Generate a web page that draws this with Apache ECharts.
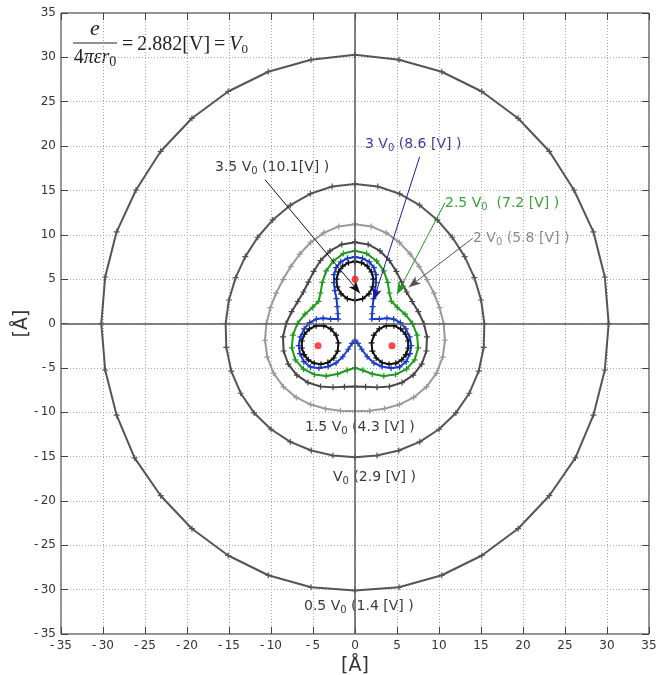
<!DOCTYPE html>
<html><head><meta charset="utf-8">
<script src="https://cdn.jsdelivr.net/npm/echarts/dist/echarts.min.js"></script>
<style>html,body{margin:0;padding:0;background:#fff}#c{width:670px;height:675px}</style>
</head><body><div id="c"></div>
<script>
const AXIS_MIN = -35, AXIS_MAX = 35, TICK_STEP = 5;

// 0.5 V0 (1.4 V)
const contour05 = [[0,30.3],[5.24,29.74],[10.33,28.38],[15.1,26.15],[19.41,23.13],[23.13,19.41],[26.07,15.05],[28.38,10.33],[29.74,5.24],[30.2,0],[29.74,-5.24],[28.38,-10.33],[26.24,-15.15],[23.13,-19.41],[19.41,-23.13],[15.1,-26.15],[10.33,-28.38],[5.24,-29.74],[0,-30.1],[-5.24,-29.74],[-10.33,-28.38],[-15.1,-26.15],[-19.41,-23.13],[-23.13,-19.41],[-26.24,-15.15],[-28.38,-10.33],[-29.74,-5.24],[-30.2,0],[-29.74,5.24],[-28.38,10.33],[-26.07,15.05],[-23.13,19.41],[-19.41,23.13],[-15.1,26.15],[-10.33,28.38],[-5.24,29.74],[0,30.3]];
// V0 (2.9 V)
const contour10 = [[0,15.72],[2.72,15.44],[5.32,14.62],[7.7,13.34],[9.8,11.67],[11.58,9.72],[13.06,7.54],[14.21,5.17],[15.01,2.65],[15.4,0],[15.32,-2.7],[14.73,-5.36],[13.61,-7.86],[12.01,-10.08],[10.0,-11.92],[7.7,-13.34],[5.21,-14.32],[2.62,-14.89],[0,-15.08],[-2.62,-14.89],[-5.21,-14.32],[-7.7,-13.34],[-10.0,-11.92],[-12.01,-10.08],[-13.61,-7.86],[-14.73,-5.36],[-15.32,-2.7],[-15.4,0],[-15.01,2.65],[-14.21,5.17],[-13.06,7.54],[-11.58,9.72],[-9.8,11.67],[-7.7,13.34],[-5.32,14.62],[-2.72,15.44],[0,15.72]];
// 1.5 V0 (4.3 V)
const contour15 = [[0,11.2],[1.93,10.94],[3.72,10.22],[5.28,9.14],[6.57,7.83],[7.65,6.42],[8.57,4.95],[9.39,3.42],[10.07,1.78],[10.55,0],[10.71,-1.89],[10.44,-3.8],[9.7,-5.6],[8.51,-7.14],[6.99,-8.33],[5.28,-9.14],[3.5,-9.61],[1.73,-9.84],[0,-9.9],[-1.73,-9.84],[-3.5,-9.61],[-5.28,-9.14],[-6.99,-8.33],[-8.51,-7.14],[-9.7,-5.6],[-10.44,-3.8],[-10.71,-1.89],[-10.55,0],[-10.07,1.78],[-9.39,3.42],[-8.57,4.95],[-7.65,6.42],[-6.57,7.83],[-5.28,9.14],[-3.72,10.22],[-1.93,10.94],[0,11.2]];
// 2 V0 (5.8 V)
const contour20 = [[0,9.17],[1.57,8.91],[2.98,8.18],[4.1,7.1],[4.92,5.87],[5.55,4.66],[6.14,3.55],[6.81,2.48],[7.54,1.33],[8.2,0],[8.57,-1.51],[8.5,-3.1],[7.94,-4.59],[6.93,-5.82],[5.59,-6.66],[4.1,-7.1],[2.62,-7.2],[1.26,-7.14],[0,-7.09],[-1.26,-7.14],[-2.62,-7.2],[-4.1,-7.1],[-5.59,-6.66],[-6.93,-5.82],[-7.94,-4.59],[-8.5,-3.1],[-8.57,-1.51],[-8.2,0],[-7.54,1.33],[-6.81,2.48],[-6.14,3.55],[-5.55,4.66],[-4.92,5.87],[-4.1,7.1],[-2.98,8.18],[-1.57,8.91],[0,9.17]];
// 2.5 V0 (7.2 V)
const contour25 = [[0,8.2],[1.39,7.88],[2.57,7.05],[3.43,5.93],[3.89,4.63],[4.1,3.44],[4.33,2.5],[5.03,1.83],[5.96,1.05],[6.85,0],[7.39,-1.3],[7.52,-2.74],[7.1,-4.1],[6.13,-5.14],[4.82,-5.75],[3.43,-5.93],[2.07,-5.69],[0.93,-5.27],[0,-5.0],[-0.93,-5.27],[-2.07,-5.69],[-3.43,-5.93],[-4.82,-5.75],[-6.13,-5.14],[-7.1,-4.1],[-7.52,-2.74],[-7.39,-1.3],[-6.85,0],[-5.96,1.05],[-5.03,1.83],[-4.33,2.5],[-4.1,3.44],[-3.89,4.63],[-3.43,5.93],[-2.57,7.05],[-1.39,7.88],[0,8.2]];
// 3 V0 (8.6 V)
const contour30 = [[0,7.5],[0.9,7.35],[1.7,6.95],[2.25,6.3],[2.5,5.5],[2.5,4.6],[2.4,3.7],[2.2,2.8],[2.1,1.9],[2.05,1.1],[2.0,0.5],[2.9,0.5],[3.8,0.6],[4.6,0.5],[5.4,0.1],[6.05,-0.6],[6.5,-1.5],[6.7,-2.5],[6.55,-3.4],[6.1,-4.3],[5.3,-4.9],[4.3,-5.05],[3.2,-4.85],[2.25,-4.45],[1.45,-3.75],[0.8,-2.9],[0.35,-2.25],[0,-1.86],[-0.35,-2.25],[-0.8,-2.9],[-1.45,-3.75],[-2.25,-4.45],[-3.2,-4.85],[-4.3,-5.05],[-5.3,-4.9],[-6.1,-4.3],[-6.55,-3.4],[-6.7,-2.5],[-6.5,-1.5],[-6.05,-0.6],[-5.4,0.1],[-4.6,0.5],[-3.8,0.6],[-2.9,0.5],[-2.0,0.5],[-2.05,1.1],[-2.1,1.9],[-2.2,2.8],[-2.4,3.7],[-2.5,4.6],[-2.5,5.5],[-2.25,6.3],[-1.7,6.95],[-0.9,7.35],[0,7.5]];
// 3.5 V0 (10.1 V): three closed curves
const contour35top = [[0,7.0],[0.77,6.86],[1.46,6.46],[1.96,5.81],[2.2,5.0],[2.1,4.13],[1.66,3.35],[0.91,2.8],[0,2.6],[-0.91,2.8],[-1.66,3.35],[-2.1,4.13],[-2.2,5.0],[-1.96,5.81],[-1.46,6.46],[-0.77,6.86],[0,7.0]];
const contour35right = [[6.06,-3.5],[5.56,-4.1],[4.86,-4.49],[4.05,-4.6],[3.23,-4.41],[2.52,-3.89],[2.07,-3.11],[1.97,-2.19],[2.25,-1.3],[2.88,-0.61],[3.73,-0.24],[4.63,-0.24],[5.43,-0.6],[6.01,-1.21],[6.32,-1.97],[6.33,-2.76],[6.06,-3.5]];
const contour35left = [[-6.06,-3.5],[-5.56,-4.1],[-4.86,-4.49],[-4.05,-4.6],[-3.23,-4.41],[-2.52,-3.89],[-2.07,-3.11],[-1.97,-2.19],[-2.25,-1.3],[-2.88,-0.61],[-3.73,-0.24],[-4.63,-0.24],[-5.43,-0.6],[-6.01,-1.21],[-6.32,-1.97],[-6.33,-2.76],[-6.06,-3.5]];
// point charges
const charges = [[0,5],[-4.4,-2.5],[4.4,-2.5]];

const PLUS = 'path://M4,0h2v10h-2zM0,4h10v2h-10z';
const chart = echarts.init(document.getElementById('c'), null, {renderer:'canvas'});

function contour(data, color, width, extra) {
  return Object.assign({
    type:'line', data:data, symbol:PLUS, symbolSize:6, showSymbol:true,
    itemStyle:{color:color}, lineStyle:{color:color, width:width}, z:3, silent:true
  }, extra||{});
}
function arrow(from, to, color, w) {
  return {silent:true, symbol:['none','arrow'], symbolSize:[7,12],
    lineStyle:{color:color, width:w||1, type:'solid'}, label:{show:false},
    data:[[{coord:from},{coord:to}]]};
}
const subRich = (c) => ({
  m:{fontSize:14, fontFamily:'DejaVu Sans', color:c, lineHeight:18},
  s:{fontSize:10, fontFamily:'DejaVu Sans', color:c, padding:[9,0,0,0]}
});
function label(x, y, txt, c) {
  return {type:'text', x:x, y:y, silent:true,
    style:{text:txt, rich:subRich(c), fill:c, verticalAlign:'middle', align:'left'}};
}

const tickFmt = v => v < 0 ? '-\u2009' + (-v) : String(v);
const axisCommon = {type:'value', min:AXIS_MIN, max:AXIS_MAX, interval:TICK_STEP,
  axisLine:{show:false, onZero:false},
  axisTick:{show:true, inside:true, length:7, lineStyle:{color:'#444', width:1}}};

chart.setOption({
  animation:false,
  backgroundColor:'#fff',
  grid:{left:61, top:13, width:588, height:621, show:true, borderColor:'#222', borderWidth:1,
    backgroundColor:'rgba(0,0,0,0)', containLabel:false, outerBoundsMode:'none'},
  xAxis:[
    Object.assign({}, axisCommon, {position:'bottom', name:'[Å]', nameLocation:'middle', nameGap:18,
      nameTextStyle:{fontSize:19, fontFamily:'DejaVu Sans', color:'#333'},
      axisLabel:{margin:6, fontSize:12, fontFamily:'DejaVu Sans', color:'#333', formatter:tickFmt},
      splitLine:{show:true, lineStyle:{type:[1,2], color:'#a8a8a8', width:1}}}),
    Object.assign({}, axisCommon, {position:'top', axisLabel:{show:false}, splitLine:{show:false}})
  ],
  yAxis:[
    Object.assign({}, axisCommon, {position:'left', name:'[Å]', nameLocation:'middle', nameGap:29, nameRotate:90,
      nameMoveOverlap:false,
      nameTextStyle:{fontSize:19, fontFamily:'DejaVu Sans', color:'#333'},
      axisLabel:{margin:5, fontSize:12, fontFamily:'DejaVu Sans', color:'#333', formatter:tickFmt},
      splitLine:{show:true, lineStyle:{type:[1,2], color:'#a8a8a8', width:1}}}),
    Object.assign({}, axisCommon, {position:'right', axisLabel:{show:false}, splitLine:{show:false}})
  ],
  series:[
    {type:'line', data:[], z:1, silent:true,
      markLine:{silent:true, symbol:'none', label:{show:false},
        lineStyle:{color:'#5a5a5a', width:1.5, type:'solid'}, data:[{xAxis:0},{yAxis:0}]}},
    contour(contour05, '#555555', 2),
    contour(contour10, '#555555', 2),
    contour(contour15, '#9a9a9a', 2),
    contour(contour20, '#474747', 2, {markLine:arrow([14.0,9.6],[6.4,4.1],'#555555',1)}),
    contour(contour25, '#1f9a1f', 2, {markLine:arrow([10.7,13.6],[5.0,3.3],'#1f9a1f',1)}),
    contour(contour30, '#1a3ccc', 2, {markLine:arrow([7.7,18.8],[2.2,2.6],'#1a1aa0',1)}),
    contour(contour35top, '#111111', 2, {markLine:arrow([-10.7,16.2],[0.6,3.4],'#111111',1)}),
    contour(contour35right, '#111111', 2),
    contour(contour35left, '#111111', 2),
    {type:'scatter', data:charges, symbol:'circle', symbolSize:7, itemStyle:{color:'#ff1a1a'}, z:5, silent:true}
  ],
  graphic:[
    {type:'text', x:95, y:29, silent:true, style:{text:'e', font:'italic 22px "Liberation Serif"', fill:'#222', align:'center', verticalAlign:'middle'}},
    {type:'line', silent:true, shape:{x1:73, y1:43, x2:117, y2:43}, style:{stroke:'#222', lineWidth:1}},
    {type:'text', x:95, y:58, silent:true, style:{text:'{n|4}{i|πεr}{s|0}', align:'center', verticalAlign:'middle', fill:'#222',
      rich:{n:{fontSize:20, fontFamily:'Liberation Serif', color:'#222'},
            i:{fontSize:20, fontFamily:'Liberation Serif', fontStyle:'italic', color:'#222'},
            s:{fontSize:14, fontFamily:'Liberation Serif', color:'#222', padding:[9,0,0,0]}}}},
    {type:'text', x:122, y:45, silent:true, style:{text:'{n|=\u20092.882[V]\u2009=\u2009}{i|V}{s|0}', align:'left', verticalAlign:'middle', fill:'#222',
      rich:{n:{fontSize:20, fontFamily:'Liberation Serif', color:'#222'},
            i:{fontSize:20, fontFamily:'Liberation Serif', fontStyle:'italic', color:'#222'},
            s:{fontSize:13, fontFamily:'Liberation Serif', color:'#222', padding:[10,0,0,0]}}}},
    label(215, 167, '{m|3.5 V}{s|0}{m| (10.1[V] )}', '#3a3a3a'),
    label(365, 144, '{m|3 V}{s|0}{m| (8.6 [V] )}', '#3a3aa0'),
    label(445, 203, '{m|2.5 V}{s|0}{m|  (7.2 [V] )}', '#3aa03a'),
    label(473, 238, '{m|2 V}{s|0}{m| (5.8 [V] )}', '#8a8a8a'),
    label(305, 427, '{m|1.5 V}{s|0}{m| (4.3 [V] )}', '#3a3a3a'),
    label(333, 477, '{m|V}{s|0}{m| (2.9 [V] )}', '#3a3a3a'),
    label(304, 606, '{m|0.5 V}{s|0}{m| (1.4 [V] )}', '#3a3a3a')
  ]
});
</script></body></html>
